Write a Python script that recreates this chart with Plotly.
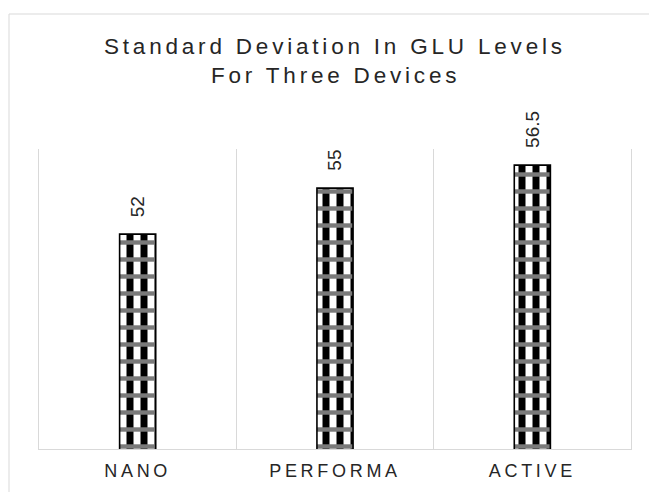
import plotly.graph_objects as go

categories = ["NANO", "PERFORMA", "ACTIVE"]
values = [52, 55, 56.5]
value_labels = ["52", "55", "56.5"]
title_lines = ["Standard Deviation In GLU Levels", "For Three Devices"]

TXT = "#262626"
GRID = "#d9d9d9"
FONT = "Liberation Sans, Arial, sans-serif"

PLOT_TOP, PLOT_BOTTOM = 149, 449
PLOT_H = PLOT_BOTTOM - PLOT_TOP


def spaced(s, px):
    return '<span style="letter-spacing:%spx">%s</span>' % (px, s)


def paper_y(py):
    return (PLOT_BOTTOM - py) / PLOT_H


fig = go.Figure()
# base pattern: vertical black/white columns
fig.add_trace(go.Bar(
    x=categories, y=values, width=0.183,
    marker=dict(color="white", line=dict(width=0),
                pattern=dict(shape="|", size=14, solidity=0.5,
                             fgcolor="black", bgcolor="white", fillmode="replace")),
    showlegend=False, hoverinfo="skip"))
# overlay: fine checker bands
fig.add_trace(go.Bar(
    x=categories, y=values, width=0.183,
    marker=dict(color="rgba(0,0,0,0)", line=dict(width=1.6, color="black"),
                pattern=dict(shape="-", size=17, solidity=0.26,
                             fgcolor="#7a7a7a", bgcolor="rgba(0,0,0,0)", fillmode="replace")),
    showlegend=False, hoverinfo="skip"))

for c, v, lab in zip(categories, values, value_labels):
    fig.add_annotation(x=c, y=v, text=lab, showarrow=False, textangle=-90,
                       yanchor="bottom", xanchor="center", yshift=15,
                       font=dict(family=FONT, size=19, color=TXT))

# two-line title as paper annotations
for line, py in zip(title_lines, [46.5, 75]):
    fig.add_annotation(x=0.5, xref="paper", y=paper_y(py), yref="paper",
                       text=spaced(line, 3.8), showarrow=False,
                       xanchor="center", yanchor="middle",
                       font=dict(family=FONT, size=22.5, color=TXT))

fig.update_layout(
    width=649, height=492,
    margin=dict(l=39, r=18, t=PLOT_TOP, b=492 - PLOT_BOTTOM, autoexpand=False),
    paper_bgcolor="white", plot_bgcolor="white",
    barmode="overlay",
    xaxis=dict(type="category", range=[-0.5, 2.5], showgrid=True, gridcolor=GRID, gridwidth=1,
               tickson="boundaries", ticks="", showline=True, linecolor=GRID, linewidth=1,
               tickmode="array", tickvals=categories,
               ticktext=[spaced(c, 3.7) for c in categories],
               ticklabelstandoff=5, automargin=False,
               tickfont=dict(family=FONT, size=18, color=TXT),
               zeroline=False, fixedrange=True),
    yaxis=dict(range=[38, 57.55], showgrid=False, showticklabels=False, ticks="",
               showline=True, linecolor=GRID, linewidth=1, mirror=True, zeroline=False,
               automargin=False, fixedrange=True),
    shapes=[dict(type="rect", xref="paper", yref="paper",
                 x0=(9 - 39) / 592, x1=1.2, y0=-0.5, y1=paper_y(14),
                 line=dict(color=GRID, width=1), fillcolor="rgba(0,0,0,0)", layer="below")],
)

fig.write_html("out.html", config={"displayModeBar": False},
               post_script="document.body.style.margin='0';")
